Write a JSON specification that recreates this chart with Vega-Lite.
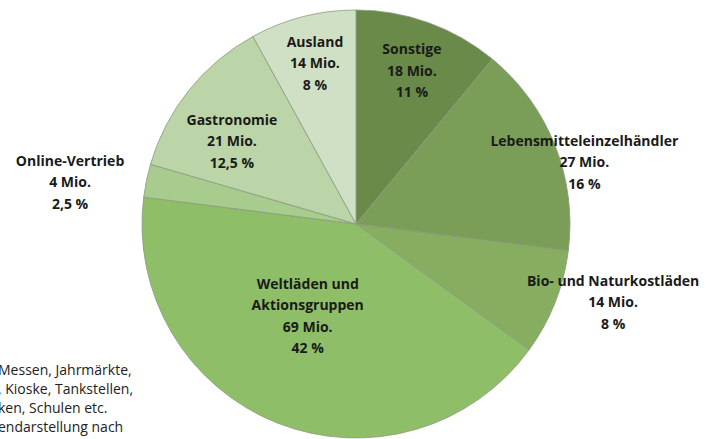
{
  "$schema": "https://vega.github.io/schema/vega-lite/v6.json",
  "width": 712,
  "height": 448,
  "padding": 0,
  "autosize": {"type": "none"},
  "background": "white",
  "config": {"view": {"stroke": null}},
  "title": {
    "text": ["Messen, Jahrmärkte,", "\u00a0\u00a0\u00a0\u00a0\u00a0, Kioske, Tankstellen,", "ken, Schulen etc.", "endarstellung nach"],
    "orient": "bottom",
    "anchor": "start",
    "frame": "group",
    "offset": -90,
    "dx": -2,
    "dy": -43,
    "baseline": "top",
    "font": "Open Sans",
    "fontSize": 14,
    "fontWeight": "normal",
    "lineHeight": 19,
    "color": "#222222"
  },
  "data": {
    "values": [
      {"name": "Sonstige", "mio": 18, "pct": 11, "o": 1, "label": "Sonstige\n18 Mio.\n11 %"},
      {"name": "Lebensmitteleinzelhändler", "mio": 27, "pct": 16, "o": 2, "label": "Lebensmitteleinzelhändler\n27 Mio.\n16 %"},
      {"name": "Bio- und Naturkostläden", "mio": 14, "pct": 8, "o": 3, "label": "Bio- und Naturkostläden\n14 Mio.\n8 %"},
      {"name": "Weltläden und Aktionsgruppen", "mio": 69, "pct": 42, "o": 4, "label": "Weltläden und\nAktionsgruppen\n69 Mio.\n42 %"},
      {"name": "Online-Vertrieb", "mio": 4, "pct": 2.5, "o": 5, "label": "Online-Vertrieb\n4 Mio.\n2,5 %"},
      {"name": "Gastronomie", "mio": 21, "pct": 12.5, "o": 6, "label": "Gastronomie\n21 Mio.\n12,5 %"},
      {"name": "Ausland", "mio": 14, "pct": 8, "o": 7, "label": "Ausland\n14 Mio.\n8 %"}
    ]
  },
  "encoding": {
    "theta": {"field": "pct", "type": "quantitative", "stack": true},
    "order": {"field": "o", "type": "quantitative"}
  },
  "layer": [
    {
      "mark": {"type": "arc", "outerRadius": 214, "stroke": "#8a9a80", "strokeWidth": 0.8},
      "encoding": {
        "color": {
          "field": "name",
          "type": "nominal",
          "legend": null,
          "scale": {
            "domain": ["Sonstige", "Lebensmitteleinzelhändler", "Bio- und Naturkostläden", "Weltläden und Aktionsgruppen", "Online-Vertrieb", "Gastronomie", "Ausland"],
            "range": ["#698a48", "#7a9e58", "#86ad60", "#8fbe68", "#a8cb8e", "#bcd5a8", "#d0e0c4"]
          }
        }
      }
    },
    {
      "mark": {"type": "text", "radius": 165, "dy": -18.5, "font": "Open Sans", "fontSize": 14, "fontWeight": "bold", "lineBreak": "\n", "lineHeight": 21.5, "align": "center", "baseline": "middle", "color": "#1a1a1a"},
      "encoding": {"text": {"condition": {"test": "datum.name === 'Sonstige'", "field": "label"}, "value": ""}}
    },
    {
      "mark": {"type": "text", "radius": 165, "dy": -21.5, "font": "Open Sans", "fontSize": 14, "fontWeight": "bold", "lineBreak": "\n", "lineHeight": 21.5, "align": "center", "baseline": "middle", "color": "#1a1a1a"},
      "encoding": {"text": {"condition": {"test": "datum.name === 'Ausland'", "field": "label"}, "value": ""}}
    },
    {
      "mark": {"type": "text", "radius": 150, "dx": -7, "dy": -9.5, "font": "Open Sans", "fontSize": 14, "fontWeight": "bold", "lineBreak": "\n", "lineHeight": 21.5, "align": "center", "baseline": "middle", "color": "#1a1a1a"},
      "encoding": {"text": {"condition": {"test": "datum.name === 'Gastronomie'", "field": "label"}, "value": ""}}
    },
    {
      "mark": {"type": "text", "radius": 104, "dx": -10, "dy": -36, "font": "Open Sans", "fontSize": 14, "fontWeight": "bold", "lineBreak": "\n", "lineHeight": 21.5, "align": "center", "baseline": "middle", "color": "#1a1a1a"},
      "encoding": {"text": {"condition": {"test": "datum.name === 'Weltläden und Aktionsgruppen'", "field": "label"}, "value": ""}}
    },
    {
      "mark": {"type": "text", "radius": 237, "dx": 8, "dy": 5, "font": "Open Sans", "fontSize": 14, "fontWeight": "bold", "lineBreak": "\n", "lineHeight": 21.5, "align": "center", "baseline": "middle", "color": "#1a1a1a"},
      "encoding": {"text": {"condition": {"test": "datum.name === 'Lebensmitteleinzelhändler'", "field": "label"}, "value": ""}}
    },
    {
      "mark": {"type": "text", "radius": 269, "dx": 7, "dy": -41.5, "font": "Open Sans", "fontSize": 14, "fontWeight": "bold", "lineBreak": "\n", "lineHeight": 21.5, "align": "center", "baseline": "middle", "color": "#1a1a1a"},
      "encoding": {"text": {"condition": {"test": "datum.name === 'Bio- und Naturkostläden'", "field": "label"}, "value": ""}}
    },
    {
      "mark": {"type": "text", "radius": 290, "dx": -2, "dy": -3.5, "font": "Open Sans", "fontSize": 14, "fontWeight": "bold", "lineBreak": "\n", "lineHeight": 21.5, "align": "center", "baseline": "middle", "color": "#1a1a1a"},
      "encoding": {"text": {"condition": {"test": "datum.name === 'Online-Vertrieb'", "field": "label"}, "value": ""}}
    }
  ]
}
